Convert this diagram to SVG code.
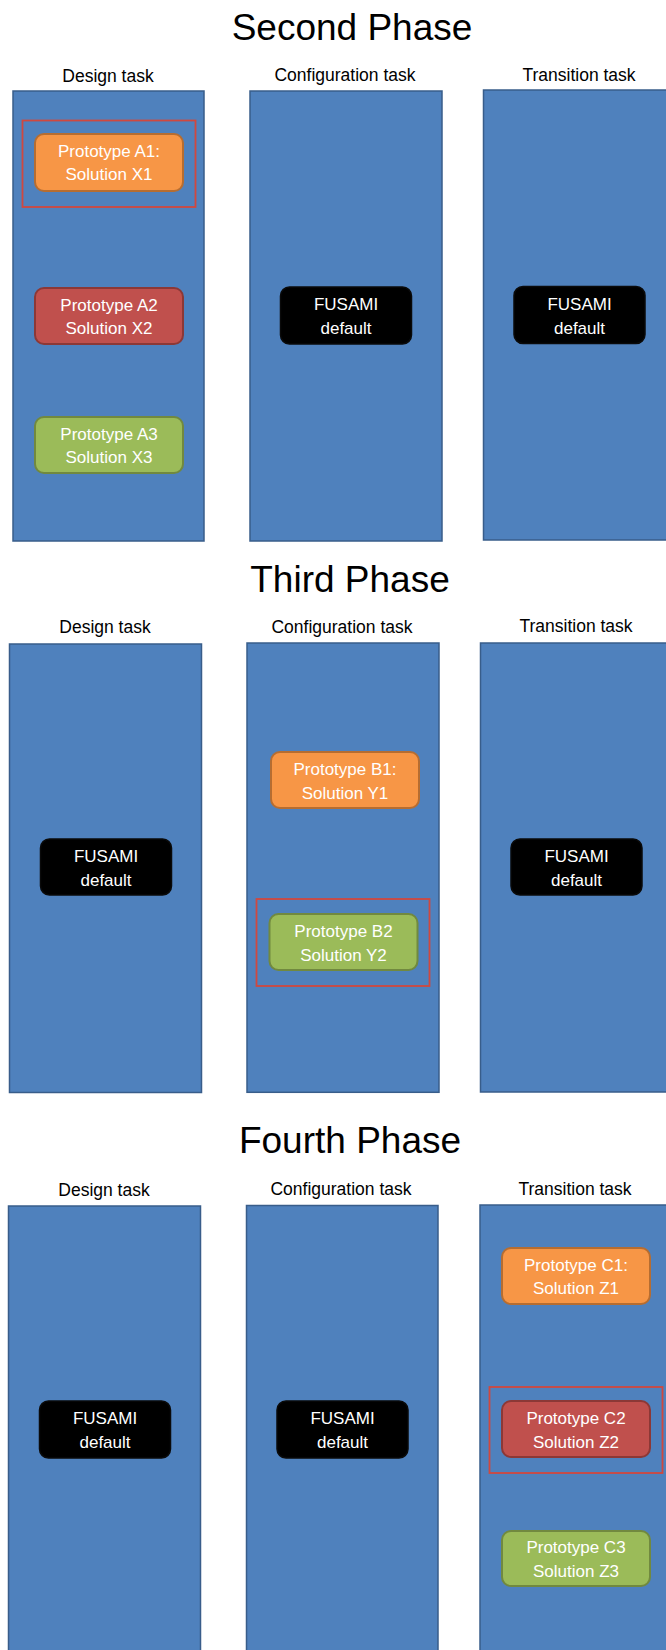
<svg xmlns="http://www.w3.org/2000/svg" width="666" height="1650" viewBox="0 0 666 1650">
  <style>
    .title { font-family: "Liberation Sans", Arial, sans-serif; font-size: 37px; fill: #000; text-anchor: middle; }
    .lane-label { font-family: "Liberation Sans", Arial, sans-serif; font-size: 17.5px; fill: #000; text-anchor: middle; }
    .lane { fill: #4F81BD; stroke: #385D8A; stroke-width: 1.5; }
    .node-text { font-family: "Liberation Sans", Arial, sans-serif; font-size: 17px; fill: #FFFFFF; text-anchor: middle; }
    .orange { fill: #F79646; stroke: #B66D31; stroke-width: 2; }
    .red { fill: #C0504D; stroke: #8C3836; stroke-width: 2; }
    .green { fill: #9BBB59; stroke: #71893F; stroke-width: 2; }
    .black { fill: #000000; stroke: #0a0a0a; stroke-width: 1.5; }
    .pick { fill: none; stroke: #D0483F; stroke-width: 1.8; }
  </style>

  <!-- Second phase -->
  <g id="phase2">
    <text class="title" x="352" y="40">Second Phase</text>
    <g id="p2-design">
      <text class="lane-label" x="108" y="82">Design task</text>
      <rect class="lane" x="13" y="91" width="191" height="450"/>
    </g>
    <g id="p2-config">
      <text class="lane-label" x="345" y="81">Configuration task</text>
      <rect class="lane" x="250" y="91" width="192" height="450"/>
    </g>
    <g id="p2-transition">
      <text class="lane-label" x="579" y="80.5">Transition task</text>
      <rect class="lane" x="483.5" y="90" width="192" height="450"/>
    </g>
    <g id="p2-a1">
      <rect class="orange" x="35" y="134" width="148" height="57" rx="9"/>
      <text class="node-text" x="109" y="157">Prototype A1:</text>
      <text class="node-text" x="109" y="180">Solution X1</text>
    </g>
    <rect id="p2-pick" class="pick" x="22.5" y="120.5" width="173" height="86.5"/>
    <g id="p2-a2">
      <rect class="red" x="35" y="288" width="148" height="56" rx="9"/>
      <text class="node-text" x="109" y="310.5">Prototype A2</text>
      <text class="node-text" x="109" y="334">Solution X2</text>
    </g>
    <g id="p2-a3">
      <rect class="green" x="35" y="417" width="148" height="56" rx="9"/>
      <text class="node-text" x="109" y="439.5">Prototype A3</text>
      <text class="node-text" x="109" y="463">Solution X3</text>
    </g>
    <g id="p2-fusami-config">
      <rect class="black" x="280.5" y="287" width="131" height="57" rx="9"/>
      <text class="node-text" x="346" y="310">FUSAMI</text>
      <text class="node-text" x="346" y="334">default</text>
    </g>
    <g id="p2-fusami-transition">
      <rect class="black" x="514" y="286.5" width="131" height="57" rx="9"/>
      <text class="node-text" x="579.5" y="309.5">FUSAMI</text>
      <text class="node-text" x="579.5" y="333.5">default</text>
    </g>
  </g>

  <!-- Third phase -->
  <g id="phase3">
    <text class="title" x="350" y="592">Third Phase</text>
    <g id="p3-design">
      <text class="lane-label" x="105" y="633">Design task</text>
      <rect class="lane" x="9.5" y="644" width="192" height="448.5"/>
    </g>
    <g id="p3-config">
      <text class="lane-label" x="342" y="633">Configuration task</text>
      <rect class="lane" x="247" y="643" width="192" height="449.3"/>
    </g>
    <g id="p3-transition">
      <text class="lane-label" x="576" y="632">Transition task</text>
      <rect class="lane" x="480.5" y="643" width="192" height="449"/>
    </g>
    <g id="p3-fusami-design">
      <rect class="black" x="40.5" y="839" width="131" height="56" rx="9"/>
      <text class="node-text" x="106" y="862">FUSAMI</text>
      <text class="node-text" x="106" y="885.5">default</text>
    </g>
    <g id="p3-b1">
      <rect class="orange" x="271" y="752" width="148" height="56" rx="9"/>
      <text class="node-text" x="345" y="775">Prototype B1:</text>
      <text class="node-text" x="345" y="798.5">Solution Y1</text>
    </g>
    <rect id="p3-pick" class="pick" x="256.5" y="899" width="173" height="87"/>
    <g id="p3-b2">
      <rect class="green" x="269.5" y="914" width="148" height="56" rx="9"/>
      <text class="node-text" x="343.5" y="937">Prototype B2</text>
      <text class="node-text" x="343.5" y="960.5">Solution Y2</text>
    </g>
    <g id="p3-fusami-transition">
      <rect class="black" x="511" y="839" width="131" height="56" rx="9"/>
      <text class="node-text" x="576.5" y="862">FUSAMI</text>
      <text class="node-text" x="576.5" y="885.5">default</text>
    </g>
  </g>

  <!-- Fourth phase -->
  <g id="phase4">
    <text class="title" x="350" y="1153">Fourth Phase</text>
    <g id="p4-design">
      <text class="lane-label" x="104" y="1196">Design task</text>
      <rect class="lane" x="8.5" y="1206" width="192" height="460"/>
    </g>
    <g id="p4-config">
      <text class="lane-label" x="341" y="1195">Configuration task</text>
      <rect class="lane" x="246.5" y="1205.5" width="191.5" height="460"/>
    </g>
    <g id="p4-transition">
      <text class="lane-label" x="575" y="1194.5">Transition task</text>
      <rect class="lane" x="480" y="1205" width="192" height="460"/>
    </g>
    <g id="p4-fusami-design">
      <rect class="black" x="39.5" y="1401" width="131" height="57" rx="9"/>
      <text class="node-text" x="105" y="1424">FUSAMI</text>
      <text class="node-text" x="105" y="1448">default</text>
    </g>
    <g id="p4-fusami-config">
      <rect class="black" x="277" y="1401" width="131" height="57" rx="9"/>
      <text class="node-text" x="342.5" y="1424">FUSAMI</text>
      <text class="node-text" x="342.5" y="1448">default</text>
    </g>
    <g id="p4-c1">
      <rect class="orange" x="502" y="1248" width="148" height="56" rx="9"/>
      <text class="node-text" x="576" y="1270.5">Prototype C1:</text>
      <text class="node-text" x="576" y="1294">Solution Z1</text>
    </g>
    <rect id="p4-pick" class="pick" x="489.5" y="1387" width="173" height="86"/>
    <g id="p4-c2">
      <rect class="red" x="502" y="1401" width="148" height="56" rx="9"/>
      <text class="node-text" x="576" y="1424">Prototype C2</text>
      <text class="node-text" x="576" y="1447.5">Solution Z2</text>
    </g>
    <g id="p4-c3">
      <rect class="green" x="502" y="1531" width="148" height="55" rx="9"/>
      <text class="node-text" x="576" y="1553">Prototype C3</text>
      <text class="node-text" x="576" y="1576.5">Solution Z3</text>
    </g>
  </g>

  <!-- no connectors are drawn between the nodes -->
  <g id="connectors"/>
</svg>
